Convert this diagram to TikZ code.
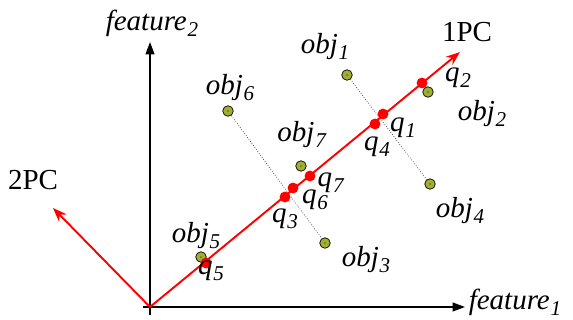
\documentclass[tikz,border=0pt]{standalone}
\usepackage{fontspec}
\setmainfont{Liberation Serif}
\usetikzlibrary{arrows.meta}
\definecolor{objgreen}{RGB}{160,175,50}
\newcommand{\idx}[2]{\textit{#1}\kern0.5pt\raisebox{-0.45ex}{\fontsize{12}{12}\selectfont\textit{#2}}}

\begin{document}
\begin{tikzpicture}[
  x=0.02cm, y=-0.02cm,
  axis/.style={-{Triangle[length=7pt,width=5pt]}, line width=0.8pt, black},
  pc/.style={-{Stealth[length=8pt,width=6pt]}, line width=1.1pt, red},
  objpt/.style={circle, draw=black, fill=objgreen, inner sep=0pt, minimum size=6pt,
                path picture={\fill[black] (path picture bounding box.center) circle (0.35pt);}},
  qpt/.style={circle, fill=red, inner sep=0pt, minimum size=6.2pt},
  link/.style={densely dotted, thin, black!80},
  lbl/.style={font=\fontsize{16.5}{18}\selectfont, inner sep=0pt}
]
\useasboundingbox (0,0) rectangle (573,320);

% axes
\coordinate (O)  at (150,307);
\coordinate (xs) at (143,307);
\coordinate (xe) at (465,307);
\coordinate (ys) at (150,315);
\coordinate (ye) at (150,42);
\coordinate (pc1) at (460,52);
\coordinate (pc2) at (53,208);
\draw[axis] (xs)--(xe);
\draw[axis] (ys)--(ye);

% objects
\node[objpt] (o1) at (347,75)  {};
\node[objpt] (o2) at (428,92)  {};
\node[objpt] (o3) at (325,243) {};
\node[objpt] (o4) at (430,184) {};
\node[objpt] (o5) at (201,257) {};
\node[objpt] (o6) at (228,111) {};
\node[objpt] (o7) at (301,166) {};

\draw[link] (o1)--(o4);
\draw[link] (o6)--(o3);

% principal components
\draw[pc] (O)--(pc1);
\draw[pc] (O)--(pc2);

% projections
\node[qpt] (q1) at (383,114) {};
\node[qpt] (q2) at (422,83)  {};
\node[qpt] (q3) at (285,197) {};
\node[qpt] (q4) at (375,124) {};
\node[qpt] (q5) at (206,263) {};
\node[qpt] (q6) at (293,188) {};
\node[qpt] (q7) at (310,176) {};

% labels
\node[lbl] (f2)  at (152,23)  {\idx{feature}{2}};
\node[lbl] (f1)  at (515,302) {\idx{feature}{1}};
\node[lbl] (l1pc) at (467,32) {1PC};
\node[lbl] (l2pc) at (33,180) {2PC};
\node[lbl] (lo1) at (325,47)  {\idx{obj}{1}};
\node[lbl] (lo2) at (482,114) {\idx{obj}{2}};
\node[lbl] (lo3) at (366,260) {\idx{obj}{3}};
\node[lbl] (lo4) at (460,211) {\idx{obj}{4}};
\node[lbl] (lo5) at (196,236) {\idx{obj}{5}};
\node[lbl] (lo6) at (230,88)  {\idx{obj}{6}};
\node[lbl] (lo7) at (302,135) {\idx{obj}{7}};
\node[lbl] (lq1) at (403,128) {\idx{q}{1}};
\node[lbl] (lq2) at (458,78)  {\idx{q}{2}};
\node[lbl] (lq3) at (285,219) {\idx{q}{3}};
\node[lbl] (lq4) at (377,147) {\idx{q}{4}};
\node[lbl] (lq5) at (211,271) {\idx{q}{5}};
\node[lbl] (lq6) at (315,200) {\idx{q}{6}};
\node[lbl] (lq7) at (331,183) {\idx{q}{7}};
\end{tikzpicture}
\end{document}
